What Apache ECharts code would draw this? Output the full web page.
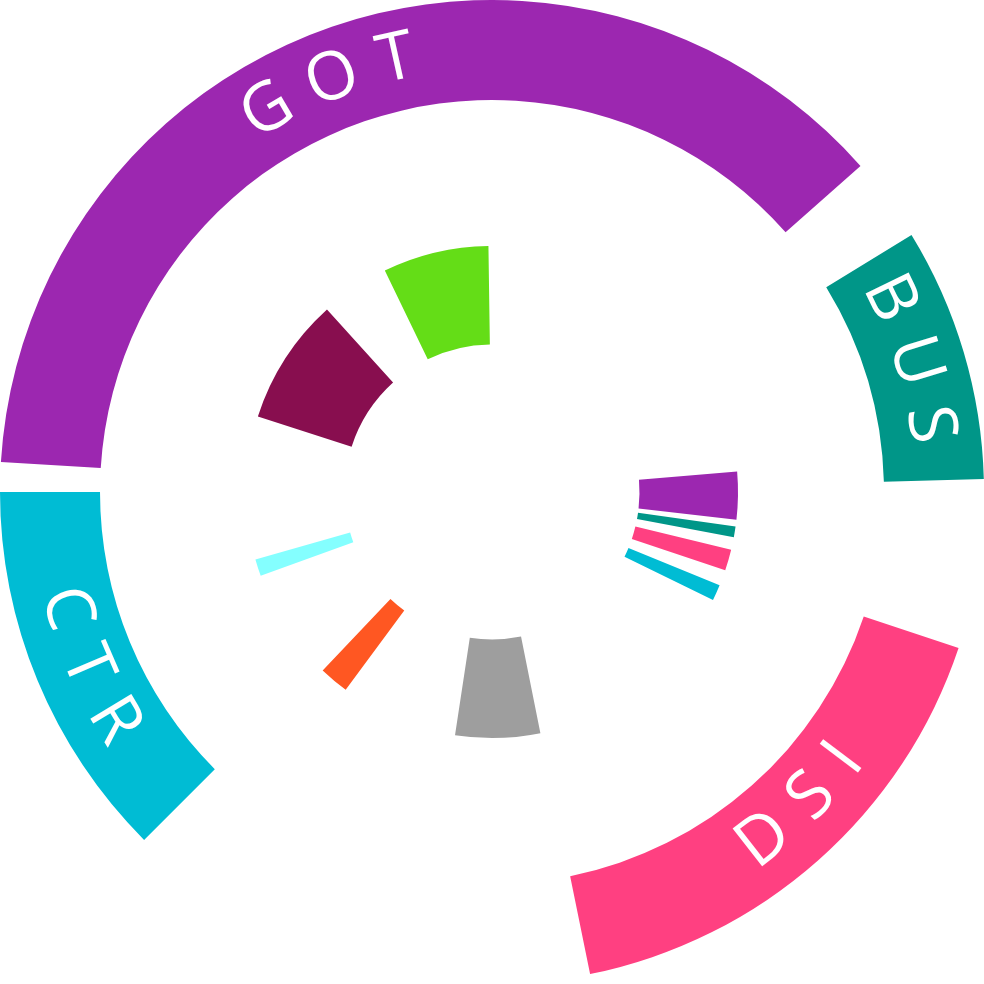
<!DOCTYPE html>
<html><head><meta charset="utf-8">
<script src="https://cdn.jsdelivr.net/npm/echarts@6/dist/echarts.min.js"></script>
<style>html,body{margin:0;padding:0;background:#fff}#c{width:984px;height:984px}</style>
</head><body><div id="c"></div>
<script>
// ---- data ----
const outerCategories = ['GOT', 'BUS', 'DSI', 'CTR'];
const outerValues = [135, 30, 60, 45];
const innerCategories = ['GOT', 'BUS', 'DSI', 'CTR', 'Grey', 'Orange', 'Aqua', 'Maroon', 'Lime'];
const innerValues = [11.25, 2.5, 5, 3.75, 20, 7, 4, 30, 25];

// ---- layout / style ----
const outerGaps = [10, 20, 56.5, 3.5];
const innerGaps = [1.63, 2.97, 3.75, 52.6, 27.85, 26.6, 33.77, 16.3, 86.03];
const outerStart = 176.5, innerStart = 4.8;
const outerColors = ['#9C27B0', '#009688', '#FF4081', '#00BCD4'];
const innerColors = ['#9C27B0', '#009688', '#FF4081', '#00BCD4', '#9E9E9E', '#FF5722', '#84FFFF', '#880E4F', '#64DD17'];
const labelShift = [2.5, 0.85, 3.95, 0.75];
const R_OUT = [392, 492], R_IN = [147.5, 246], R_LBL = [386, 492];
const FONT_FAMILY = '"Open Sans", "DejaVu Sans", sans-serif';
const FONT_SIZE = 67, FONT_WEIGHT = 400;
const LETTER_GAP = 22;
const LABEL_R = 442;
const TRANSPARENT = 'rgba(0,0,0,0)';

function ringData(names, values, gaps, colors) {
  const d = [];
  names.forEach((n, i) => {
    d.push({ name: n, value: values[i], itemStyle: { color: colors[i] } });
    d.push({ name: 'gap' + i, value: gaps[i], itemStyle: { color: TRANSPARENT } });
  });
  return d;
}

// letters along outer ring
const ctx = document.createElement('canvas').getContext('2d');
ctx.font = FONT_WEIGHT + ' ' + FONT_SIZE + 'px ' + FONT_FAMILY;
const letters = [];
let acc = 0;
outerCategories.forEach((name, i) => {
  const a0 = outerStart - acc;
  const mid = a0 - outerValues[i] / 2;
  acc += outerValues[i] + outerGaps[i];
  const anchor = mid + labelShift[i];
  const chars = name.split('');
  const w = chars.map(c => ctx.measureText(c).width);
  const pos = [0];
  for (let k = 1; k < chars.length; k++) {
    const adv = (w[k - 1] + w[k]) / 2 + LETTER_GAP;
    pos.push(pos[k - 1] + adv / LABEL_R * 180 / Math.PI);
  }
  const span = pos[pos.length - 1];
  const up = Math.sin(anchor * Math.PI / 180) > 0;
  chars.forEach((c, k) => {
    const off = pos[k] - span / 2;
    letters.push({ ch: c, ang: up ? anchor - off : anchor + off });
  });
});
const LS = 90, LW = 0.5;
letters.forEach(l => { l.cw = ((LS - l.ang) % 360 + 360) % 360; });
letters.sort((a, b) => a.cw - b.cw);
const letterData = [];
let cur = 0;
letters.forEach((l, i) => {
  const s = l.cw - LW / 2;
  letterData.push({ name: 'p' + i, value: Math.max(s - cur, 0.0001), label: { show: false } });
  letterData.push({ name: l.ch + i, value: LW, label: { show: true, formatter: l.ch } });
  cur = s + LW;
});
letterData.push({ name: 'pend', value: Math.max(360 - cur, 0.0001), label: { show: false } });

const common = {
  type: 'pie', center: ['50%', '50%'], clockwise: true,
  avoidLabelOverlap: false, animation: false, silent: true,
  labelLine: { show: false },
  emphasis: { disabled: true, scale: false },
  itemStyle: { borderWidth: 0 }
};

const option = {
  backgroundColor: '#ffffff',
  animation: false,
  series: [
    Object.assign({}, common, {
      radius: R_OUT, startAngle: outerStart,
      label: { show: false },
      data: ringData(outerCategories, outerValues, outerGaps, outerColors)
    }),
    Object.assign({}, common, {
      radius: R_IN, startAngle: innerStart,
      label: { show: false },
      data: ringData(innerCategories, innerValues, innerGaps, innerColors)
    }),
    Object.assign({}, common, {
      radius: R_LBL, startAngle: LS,
      itemStyle: { color: TRANSPARENT, borderWidth: 0 },
      label: {
        position: 'inside', rotate: 'tangential', color: '#ffffff',
        fontFamily: FONT_FAMILY, fontSize: FONT_SIZE, fontWeight: FONT_WEIGHT,
        align: 'center', verticalAlign: 'middle'
      },
      data: letterData
    })
  ]
};
const chart = echarts.init(document.getElementById('c'), null, { renderer: 'canvas' });
chart.setOption(option);
</script>
</body></html>
